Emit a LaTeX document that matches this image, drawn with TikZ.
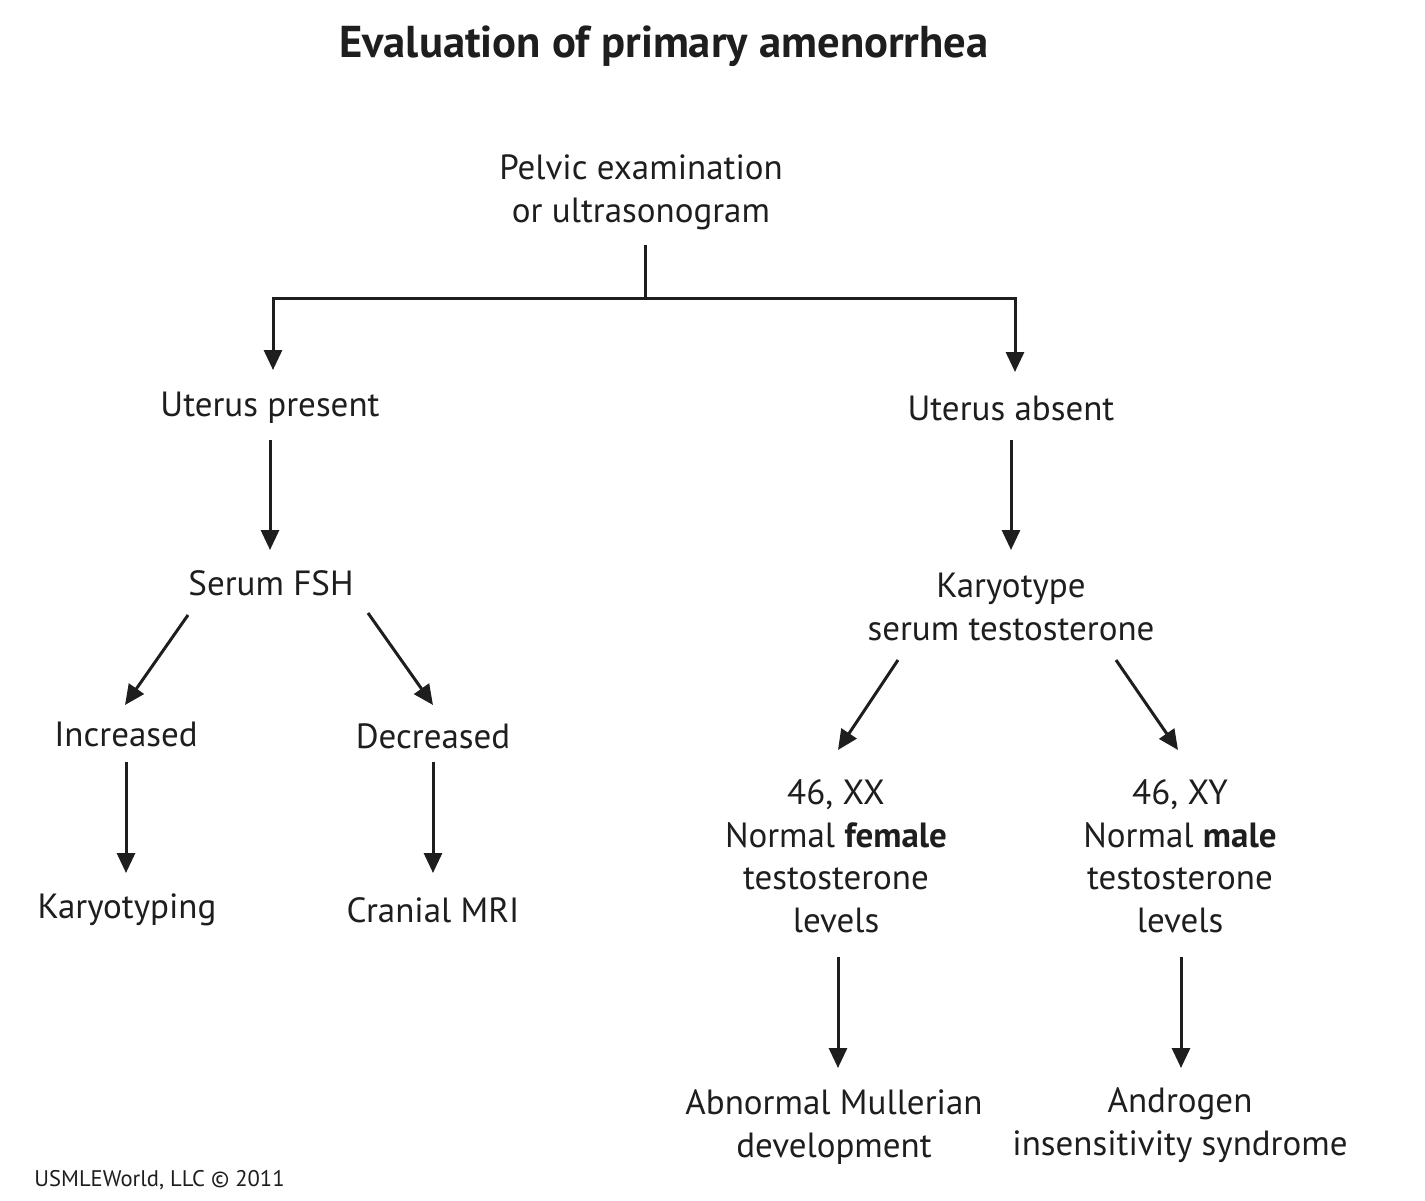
\documentclass[tikz,border=0pt]{standalone}
\usepackage{fontspec}
\setmainfont{PT Sans}
\usetikzlibrary{arrows.meta}
\definecolor{ink}{HTML}{1E1E1E}
\begin{document}
\begin{tikzpicture}[x=0.5pt,y=-0.5pt,
  lbl/.style={anchor=base,align=center,inner sep=0pt,text=ink,font=\fontsize{17.5}{21.2}\selectfont},
  arr/.style={draw=ink,line width=1.5pt,-{Triangle[length=10pt,width=9pt]}},
  ln/.style={draw=ink,line width=1.5pt}]
\useasboundingbox[fill=white] (0,0) rectangle (1425,1200);
\node[anchor=base,inner sep=0pt,text=ink,font=\fontsize{22.3}{27}\selectfont\bfseries] (title) at (664,57) {Evaluation of primary amenorrhea};
\node[lbl] (pel) at (641,222) {Pelvic examination\\or ultrasonogram};
\node[lbl] (up) at (270,416) {Uterus present};
\node[lbl] (abs) at (1011,420) {Uterus absent};
\node[lbl] (fsh) at (271,595) {Serum FSH};
\node[lbl] (kt) at (1011,640) {Karyotype\\serum testosterone};
\node[lbl] (inc) at (126,746) {Increased};
\node[lbl] (dec) at (433,748) {Decreased};
\node[lbl] (kar) at (127,918) {Karyotyping};
\node[lbl] (mri) at (433,922) {Cranial MRI};
\node[lbl] (xx) at (836,932) {46, XX\\Normal \textbf{female}\\testosterone\\levels};
\node[lbl] (xy) at (1180,932) {46, XY\\Normal \textbf{male}\\testosterone\\levels};
\node[lbl] (amd) at (834,1157) {Abnormal Mullerian\\development};
\node[lbl] (ais) at (1180,1155) {Androgen\\insensitivity syndrome};
\node[anchor=base west,inner sep=0pt,text=ink,font=\fontsize{11.3}{13}\selectfont] (copy) at (34,1186) {USMLEWorld, LLC © 2011};
\coordinate (j) at ([shift={(4,76)}]pel.base);
\draw[ln] ([shift={(4,23)}]pel.base) -- (j);
\draw[arr] (j) -| ([shift={(3,-46)}]up.base);
\draw[arr] (j) -| ([shift={(4,-48)}]abs.base);
\draw[arr] ([shift={(0,24)}]up.base) -- ([shift={(-1,-45)}]fsh.base);
\draw[arr] ([shift={(-83,20)}]fsh.base) -- ([shift={(-1,-41)}]inc.base);
\draw[arr] ([shift={(97,18)}]fsh.base) -- ([shift={(0,-43)}]dec.base);
\draw[arr] ([shift={(0,16)}]inc.base) -- ([shift={(-1,-45)}]kar.base);
\draw[arr] ([shift={(0,14)}]dec.base) -- ([shift={(0,-49)}]mri.base);
\draw[arr] ([shift={(0,20)}]abs.base) -- ([shift={(0,-90)}]kt.base);
\draw[arr] ([shift={(-113,20)}]kt.base) -- ([shift={(2,-182)}]xx.base);
\draw[arr] ([shift={(105,20)}]kt.base) -- ([shift={(-2,-182)}]xy.base);
\draw[arr] ([shift={(2,25)}]xx.base) -- ([shift={(4,-89)}]amd.base);
\draw[arr] ([shift={(1,25)}]xy.base) -- ([shift={(1,-87)}]ais.base);
\end{tikzpicture}
\end{document}
